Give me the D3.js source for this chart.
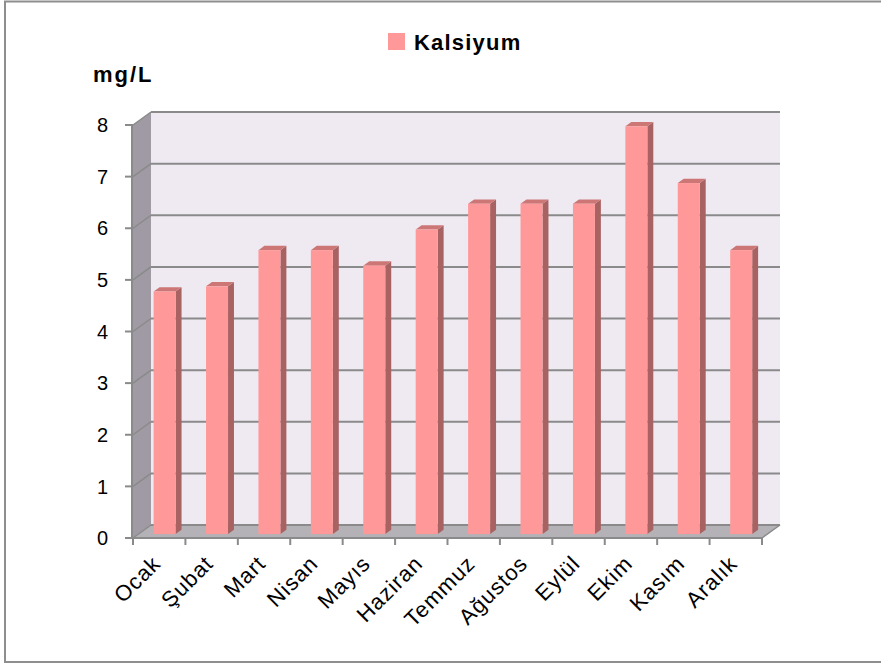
<!DOCTYPE html>
<html><head><meta charset="utf-8">
<script src="https://cdn.jsdelivr.net/npm/d3@7"></script>
<style>body{margin:0;background:#fff}svg{display:block}</style>
</head><body>
<svg id="c" width="881" height="666"></svg>
<script>
const months = ["Ocak","Şubat","Mart","Nisan","Mayıs","Haziran","Temmuz","Ağustos","Eylül","Ekim","Kasım","Aralık"];
const kalsiyum = [4.7,4.8,5.5,5.5,5.2,5.9,6.4,6.4,6.4,7.9,6.8,5.5];
const yTicks = [0,1,2,3,4,5,6,7,8];
const seriesName = "Kalsiyum";
const unitLabel = "mg/L";

const svg = d3.select("#c");
const font = "'Liberation Sans', Arial, sans-serif";
const x = d3.scaleBand().domain(months).range([133, 762]).paddingInner(0).paddingOuter(0);
const y = d3.scaleLinear().domain([0, 8]).range([538, 125]);
const DX = 18, DY = -13;        // depth vector
const f0 = 0.3, f1 = 0.63;      // bar depth slice
const barW = 22;

// outer border
svg.append("rect").attr("x",5).attr("y",1.5).attr("width",900).attr("height",660.5)
  .attr("fill","none").attr("stroke","#8e8e8e").attr("stroke-width",2);

const x0 = x.range()[0], x1 = x.range()[1], yb = y(0), yt = y(8);
const pts = a => a.map(p => p.join(",")).join(" ");

// back wall
svg.append("polygon").attr("points", pts([[x0+DX,yt+DY],[x1+DX,yt+DY],[x1+DX,yb+DY],[x0+DX,yb+DY]]))
  .attr("fill","#efeaf2");
// left wall
svg.append("polygon").attr("points", pts([[x0,yt],[x0+DX,yt+DY],[x0+DX,yb+DY],[x0,yb]]))
  .attr("fill","#9f9aa3");
// floor
svg.append("polygon").attr("points", pts([[x0,yb],[x1,yb],[x1+DX,yb+DY],[x0+DX,yb+DY]]))
  .attr("fill","#b4b1b7");

// gridlines
yTicks.forEach(t => {
  svg.append("line").attr("x1",x0+DX).attr("x2",x1+DX).attr("y1",y(t)+DY).attr("y2",y(t)+DY)
    .attr("stroke","#8a8a8a").attr("stroke-width",2);
  svg.append("line").attr("x1",x0).attr("x2",x0+DX).attr("y1",y(t)).attr("y2",y(t)+DY)
    .attr("stroke","#8a8a8a").attr("stroke-width",1.5);
});
svg.append("line").attr("x1",x1).attr("x2",x1+DX).attr("y1",yb).attr("y2",yb+DY)
  .attr("stroke","#8a8a8a").attr("stroke-width",1.5);

// bars
const g = svg.append("g");
months.forEach((m, i) => {
  const v = kalsiyum[i];
  const cx = x(m) + x.bandwidth()/2;
  const fx = cx - barW/2 + f0*DX, fxr = fx + barW;
  const fb = y(0) + f0*DY, ft = y(v) + f0*DY;
  const ddx = (f1-f0)*DX, ddy = (f1-f0)*DY;
  g.append("polygon").attr("points", pts([[fxr,ft],[fxr+ddx,ft+ddy],[fxr+ddx,fb+ddy],[fxr,fb]]))
    .attr("fill","#a86262");
  g.append("polygon").attr("points", pts([[fx,ft],[fxr,ft],[fxr+ddx,ft+ddy],[fx+ddx,ft+ddy]]))
    .attr("fill","#cc7676");
  g.append("rect").attr("x",fx).attr("y",ft).attr("width",barW).attr("height",fb-ft)
    .attr("fill","#ff9999");
});

// y axis
svg.append("line").attr("x1",x0-1).attr("x2",x0-1).attr("y1",yt).attr("y2",yb)
  .attr("stroke","#8a8a8a").attr("stroke-width",2);
yTicks.forEach(t => {
  svg.append("line").attr("x1",x0-8).attr("x2",x0).attr("y1",y(t)).attr("y2",y(t))
    .attr("stroke","#8a8a8a").attr("stroke-width",2);
  svg.append("text").attr("x",x0-25).attr("y",y(t)).attr("dy","0.36em")
    .attr("text-anchor","end").attr("font-family",font).attr("font-size",20).attr("fill","#000")
    .text(t);
});
// x axis
svg.append("line").attr("x1",x0-1).attr("x2",x1).attr("y1",yb).attr("y2",yb)
  .attr("stroke","#8a8a8a").attr("stroke-width",2);
months.concat([null]).forEach(m => {
  const xx = m === null ? x1 : x(m);
  svg.append("line").attr("x1",xx).attr("x2",xx).attr("y1",yb).attr("y2",yb+7)
    .attr("stroke","#8a8a8a").attr("stroke-width",2);
});
months.forEach(m => {
  const cx = x(m) + x.bandwidth()/2 - 8;
  svg.append("text").attr("transform",`translate(${cx},${yb+16}) rotate(-45)`)
    .attr("text-anchor","end").attr("dy","0.7em")
    .attr("font-family",font).attr("font-size",22).attr("letter-spacing",1).attr("fill","#000").text(m);
});

// unit label
svg.append("text").attr("x",93).attr("y",82).attr("font-family",font).attr("font-weight","bold")
  .attr("font-size",22).attr("letter-spacing",2).attr("fill","#000").text(unitLabel);

// legend
svg.append("rect").attr("x",388).attr("y",33).attr("width",17).attr("height",17).attr("fill","#ff9999");
svg.append("text").attr("x",414).attr("y",50).attr("font-family",font).attr("font-weight","bold")
  .attr("font-size",22).attr("letter-spacing",1.2).attr("fill","#000").text(seriesName);
</script>
</body></html>
